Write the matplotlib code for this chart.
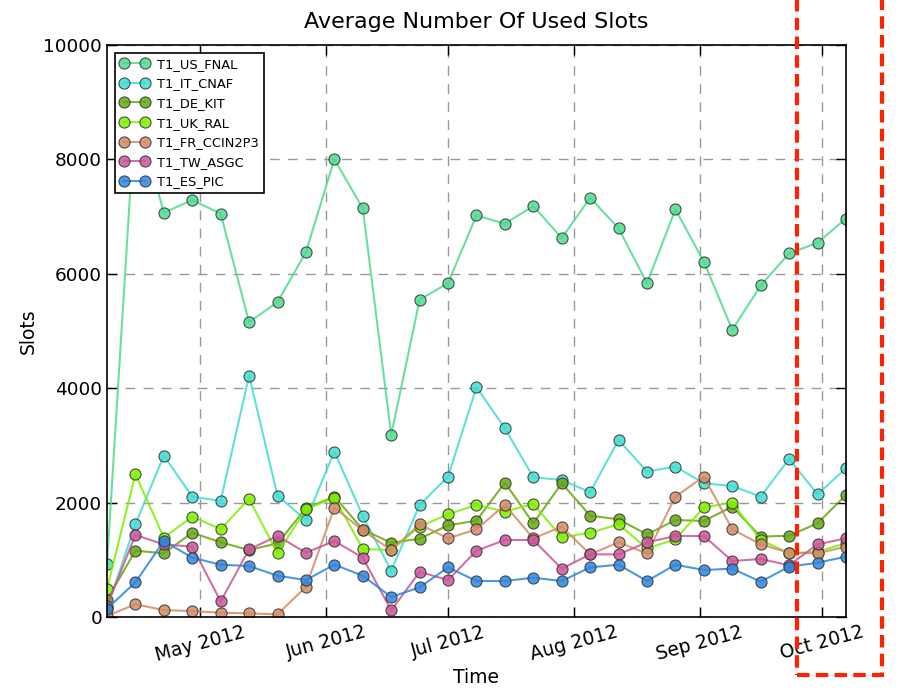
import matplotlib
matplotlib.use("Agg")
import matplotlib.pyplot as plt
from matplotlib.patches import Rectangle
import pandas as pd

start_date = "2012-04-08"
n_weeks = 27
dates = pd.date_range(start_date, periods=n_weeks, freq="7D")

series_names = ["T1_US_FNAL", "T1_IT_CNAF", "T1_DE_KIT", "T1_UK_RAL",
                "T1_FR_CCIN2P3", "T1_TW_ASGC", "T1_ES_PIC"]

fnal = [920, 8900, 7067, 7289, 7050, 5155, 5504, 6379, 8000, 7143, 3184, 5545, 5837, 7020,
        6875, 7184, 6624, 7329, 6793, 5837, 7125, 6210, 5020, 5796, 6356, 6542, 6962]
cnaf = [150, 1621, 2822, 2105, 2029, 4222, 2122, 1697, 2892, 1767, 810, 1959, 2455, 4017,
        3300, 2443, 2396, 2181, 3096, 2542, 2630, 2338, 2292, 2105, 2764, 2146, 2600]
kit = [300, 1160, 1114, 1475, 1306, 1172, 1289, 1900, 2105, 1530, 1298, 1370, 1603, 1685,
       2350, 1638, 2338, 1773, 1708, 1444, 1697, 1679, 1930, 1405, 1423, 1638, 2134]
ral = [490, 2496, 1388, 1755, 1539, 2064, 1114, 1883, 2088, 1190, 1172, 1580, 1796, 1959,
       1843, 1977, 1394, 1475, 1621, 1200, 1359, 1918, 2000, 1347, 1114, 1143, 1289]
fr = [20, 222, 122, 105, 76, 64, 47, 530, 1913, 1516, 1170, 1621, 1376, 1534,
      1959, 1376, 1580, 1096, 1306, 1111, 2105, 2455, 1534, 1271, 1125, 1114, 1230]
asgc = [200, 1434, 1271, 1230, 274, 1184, 1417, 1125, 1329, 1038, 117, 790, 647, 1160,
        1347, 1347, 846, 1096, 1096, 1306, 1417, 1417, 980, 1015, 906, 1271, 1376]
pic = [146, 606, 1329, 1038, 915, 892, 723, 647, 915, 723, 351, 519, 869, 630,
       630, 688, 630, 869, 915, 630, 915, 822, 846, 618, 880, 950, 1055]

series_values = [fnal, cnaf, kit, ral, fr, asgc, pic]
colors = ["#4FDB8E", "#40DDD2", "#66A811", "#7EF000", "#D38B66", "#CC5599", "#2E86DE"]

x_tick_dates = ["2012-05-01", "2012-06-01", "2012-07-01", "2012-08-01", "2012-09-01", "2012-10-01"]
x_tick_labels = ["May 2012", "Jun 2012", "Jul 2012", "Aug 2012", "Sep 2012", "Oct 2012"]
y_ticks = [0, 2000, 4000, 6000, 8000, 10000]

fig = plt.figure(figsize=(8.99, 6.91), dpi=100)
ax = fig.add_axes([0.119, 0.107, 0.822, 0.828])

for name, vals, c in zip(series_names, series_values, colors):
    ax.plot(dates, vals, color=c, lw=1.5, alpha=0.85, marker="o", markersize=8,
            markerfacecolor=c, markeredgecolor="#333333", markeredgewidth=0.8,
            label=name)

ax.set_xlim(dates[0], dates[-1])
ax.set_ylim(0, 10000)
ax.set_yticks(y_ticks)
ax.set_xticks(pd.to_datetime(x_tick_dates))
ax.set_xticklabels(x_tick_labels, rotation=15, ha="center", fontsize=13.5)
ax.tick_params(axis="y", labelsize=13.3)
ax.tick_params(direction="in", top=True, right=True, length=7, width=1)
ax.tick_params(axis="x", pad=4)
ax.grid(True, linestyle=(0, (7, 6)), color="#999999", lw=1)
for s in ax.spines.values():
    s.set_linewidth(1.2)

ax.set_title("Average Number Of Used Slots", fontsize=16, pad=12)
ax.set_xlabel("Time", fontsize=13.5, labelpad=2)
ax.set_ylabel("Slots", fontsize=13.5)

leg = ax.legend(loc="upper left", fontsize=9.4, numpoints=2, fancybox=False,
                framealpha=1, borderpad=0.4, labelspacing=0.5, handlelength=2.2,
                handletextpad=0.6, borderaxespad=0.6)
leg.get_frame().set_edgecolor("black")
leg.get_frame().set_linewidth(1.2)

# red dashed highlight box
rect = Rectangle((797 / 899, 16 / 691), 85 / 899, 1.0, transform=fig.transFigure,
                 fill=False, edgecolor="#FF2200", lw=3, linestyle=(0, (3, 1.5)),
                 clip_on=False)
fig.patches.append(rect)

fig.savefig("out.png", dpi=100)
